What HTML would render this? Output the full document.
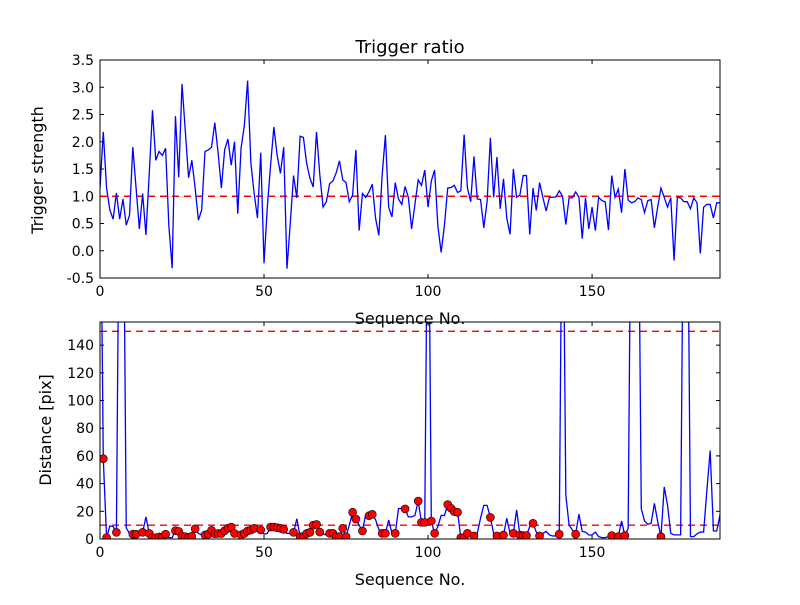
<!DOCTYPE html>
<html><head><meta charset="utf-8"><style>
body{margin:0;background:#fff}
svg text{font-family:"DejaVu Sans","Liberation Sans",sans-serif}
</style></head><body>
<svg id="fig" width="800" height="600" viewBox="0 0 800 600" xmlns="http://www.w3.org/2000/svg">
<rect width="800" height="600" fill="#fff"/>
</svg>
<script>
const ratio=[1.15,2.18,1.15,0.75,0.58,1.06,0.58,0.95,0.47,0.65,1.9,1.15,0.4,1.05,0.29,1.4,2.58,1.66,1.82,1.75,1.88,0.45,-0.32,2.47,1.35,3.06,2.2,1.34,1.66,1.15,0.56,0.75,1.82,1.85,1.9,2.35,1.8,1.15,1.85,2.05,1.57,2.0,0.68,1.88,2.3,3.12,1.6,1.05,0.6,1.8,-0.23,0.8,1.57,2.27,1.75,1.42,1.9,-0.33,0.5,1.38,0.97,2.1,2.08,1.6,1.33,1.17,2.18,1.4,0.8,0.9,1.23,1.28,1.43,1.65,1.3,1.25,0.9,1.02,1.85,0.37,1.05,0.98,1.08,1.22,0.6,0.28,1.38,2.12,0.8,0.62,1.25,0.95,0.85,1.18,0.98,0.4,0.85,1.3,1.2,1.48,0.8,1.28,1.48,0.45,-0.03,0.47,1.15,1.16,1.2,1.07,1.1,2.13,1.15,0.9,1.73,0.95,0.94,0.42,0.9,2.07,0.98,1.72,0.77,1.32,0.6,0.3,1.5,0.98,1.02,1.38,1.38,0.3,1.15,0.74,1.25,0.98,0.73,0.98,0.98,0.99,1.1,1.0,0.48,0.97,0.97,1.08,0.98,0.22,0.97,0.4,0.8,0.37,0.98,0.92,0.9,0.38,1.38,0.98,1.13,0.7,1.5,0.93,0.88,0.9,0.97,0.94,0.7,0.92,0.94,0.42,0.8,1.15,0.98,0.8,0.97,-0.18,0.98,0.97,0.9,0.9,0.77,0.97,0.88,-0.05,0.8,0.85,0.85,0.6,0.88,0.88];
const dist=[300,58,1,9.4,9,4.8,300,300,8,4,3.5,3.5,4,4.8,16,4,0.9,0.9,1.5,1.5,3.5,1,1,6,5.5,2,1.7,1.2,2,7.4,4,3,2.9,3.5,6.3,3.8,4,4,6,7.7,8.6,4,3,3,4,5.8,6.5,7.7,6.5,6.5,3.5,4,8.6,8.6,8.2,7.7,7,4,4,4.8,14.6,1.7,1.7,4,4.8,10,10.5,5,3.8,2.9,4.1,4.1,1.7,1.7,7.7,1.7,10,19.3,14.4,10,5.8,17.8,16.8,17.8,14,7,4.1,4.1,13.7,4.1,4.1,22,22,21.7,16,16,17,27.4,12,12,300,13,4.1,9,17,17,24.9,22.2,19.8,19.3,1,1,4.1,3,2.2,4,15,24.3,24.3,15.6,4,2.2,2.5,2.9,15,4,4.1,21,2.9,2.5,2.5,9,11.3,5,2.2,4,5.5,2.9,2.2,2.2,3.5,300,31.7,10,6.5,3.5,18,5.5,5,2.9,2.9,5,1.7,1,1,1.7,2.5,1.7,1.7,13,2.5,7.7,300,300,300,22,13,10.6,11.3,25.7,12.7,1.7,37.6,24.5,4,3,3,3,300,300,1.7,1.7,3.8,5,5,35,63.9,5.8,5.8,17.3,15];
const topTicks=[-0.5,0,0.5,1.0,1.5,2.0,2.5,3.0,3.5];
const botTicks=[0,20,40,60,80,100,120,140];
const xTicks=[0,50,100,150];
const ratioThreshold=1.0;
const distLines=[10,150];

const NS="http://www.w3.org/2000/svg";
const svg=document.getElementById('fig');
function mk(tag,attrs,parent){const e=document.createElementNS(NS,tag);for(const k in attrs)e.setAttribute(k,attrs[k]);(parent||svg).appendChild(e);return e;}
const L=100,R=720,XMAX=189;
const sx=v=>L+(R-L)*v/XMAX;
const A1={t:60,b:278,min:-0.5,max:3.5};
const A2={t:322,b:539,min:0,max:156.7};
const sy=(a,v)=>a.b-(a.b-a.t)*(v-a.min)/(a.max-a.min);

function axes(a,ticks,fmt,name){
  const g=mk('g',{});
  
  
  const cp=mk('clipPath',{id:'c'+name},g);
  mk('rect',{x:L,y:a.t,width:R-L,height:a.b-a.t},cp);
  ticks.forEach(v=>{const y=sy(a,v);
    mk('line',{x1:L,x2:L+4,y1:y,y2:y,stroke:'#000'},g);
    mk('line',{x1:R,x2:R-4,y1:y,y2:y,stroke:'#000'},g);
    const t=mk('text',{x:L-6,y:y+5,'text-anchor':'end','font-size':'14'},g);t.textContent=fmt(v);
    
  });
  xTicks.forEach(v=>{const x=sx(v);
    mk('line',{x1:x,x2:x,y1:a.b,y2:a.b-4,stroke:'#000'},g);
    mk('line',{x1:x,x2:x,y1:a.t,y2:a.t+4,stroke:'#000'},g);
    const t=mk('text',{x:x,y:a.b+18,'text-anchor':'middle','font-size':'14'},g);t.textContent=v;
    
  });
  return g;
}
const g1=axes(A1,topTicks,v=>v.toFixed(1),'top-axes');
const rl=mk('line',{x1:L,x2:R,y1:sy(A1,ratioThreshold),y2:sy(A1,ratioThreshold),stroke:'#f00','stroke-dasharray':'7,5','stroke-width':1.4},g1);


const p1=mk('polyline',{points:ratio.map((v,i)=>sx(i)+','+sy(A1,v)).join(' '),fill:'none',stroke:'#00f','stroke-width':1.3,'clip-path':'url(#ctop-axes)'},g1);


mk('rect',{x:L,y:A1.t,width:R-L,height:A1.b-A1.t,fill:'none',stroke:'#000'},g1);
const g2=axes(A2,botTicks,v=>v,'bottom-axes');
distLines.forEach(d=>{const l=mk('line',{x1:L,x2:R,y1:sy(A2,d),y2:sy(A2,d),stroke:'#f00','stroke-dasharray':'7,5','stroke-width':1.4},g2);
  
  });
const p2=mk('polyline',{points:dist.map((v,i)=>sx(i)+','+sy(A2,v)).join(' '),fill:'none',stroke:'#00f','stroke-width':1.3,'clip-path':'url(#cbottom-axes)'},g2);


dist.forEach((v,i)=>{if(ratio[i]>ratioThreshold){
  const c=mk('circle',{cx:sx(i),cy:sy(A2,v),r:4,fill:'#f00',stroke:'#000','stroke-width':0.6,'clip-path':'url(#cbottom-axes)'},g2);
  
  
}});
mk('rect',{x:L,y:A2.t,width:R-L,height:A2.b-A2.t,fill:'none',stroke:'#000'},g2);
function label(txt,x,y,size,name,rot){const t=mk('text',{x:x,y:y,'text-anchor':'middle','font-size':size});
  if(rot)t.setAttribute('transform','rotate(-90 '+x+' '+y+')');t.textContent=txt;
  
  }
label('Trigger ratio',410,53,18,'chart-title');
label('Sequence No.',410,324,16,'top-x-axis-title');
label('Sequence No.',410,585,16,'bottom-x-axis-title');
label('Trigger strength',43,170,16,'top-y-axis-title',true);
label('Distance [pix]',51,430,16,'bottom-y-axis-title',true);
</script>
</body></html>
